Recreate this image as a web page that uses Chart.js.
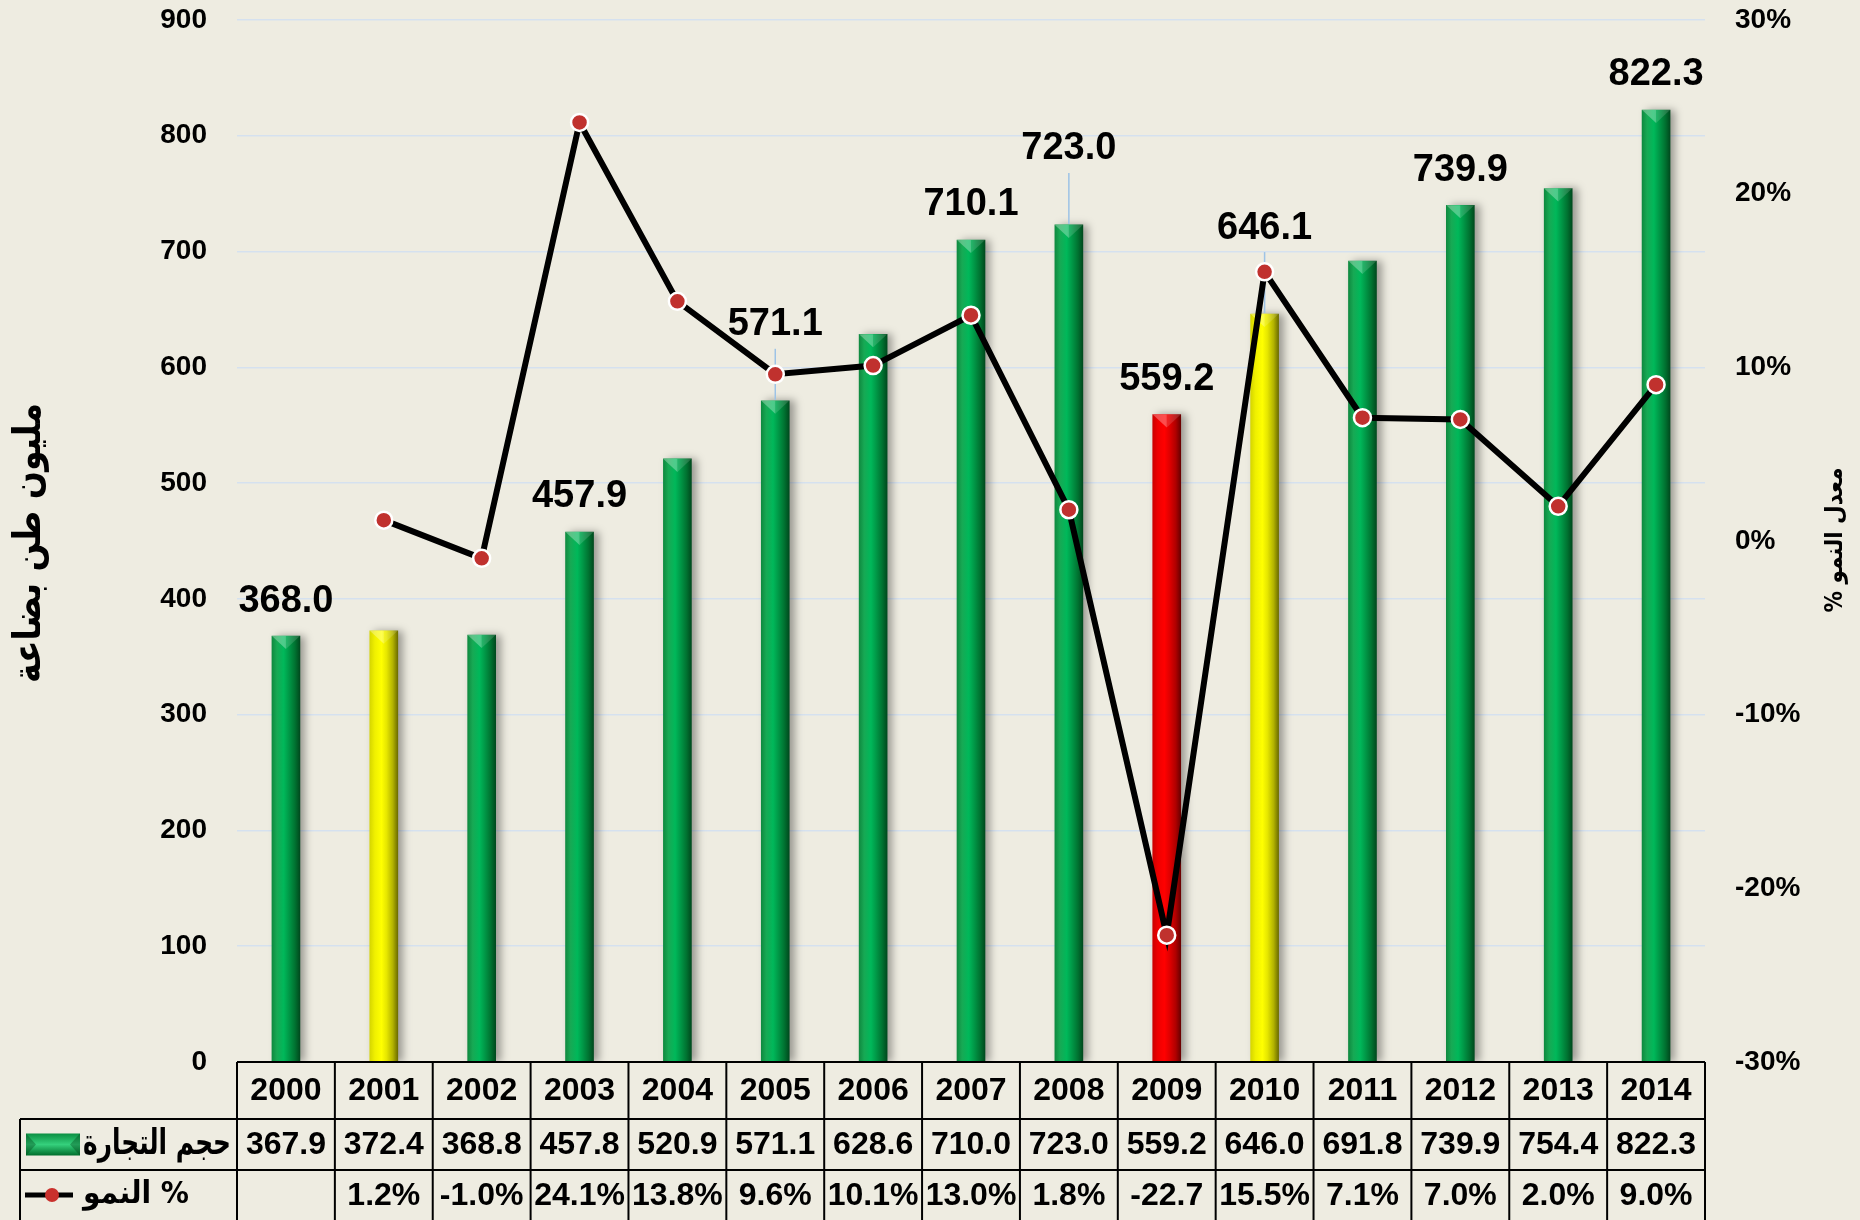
<!DOCTYPE html>
<html lang="ar">
<head>
<meta charset="utf-8">
<title>حجم التجارة ومعدل النمو</title>
<script src="https://cdn.jsdelivr.net/npm/chart.js@4.4.1/dist/chart.umd.min.js"></script>
<style>
  html, body { margin: 0; padding: 0; background: #eeece1; }
  #wrap { width: 1860px; height: 1220px; }
</style>
</head>
<body>
<div id="wrap"><canvas id="tradeChart" width="1860" height="1220"></canvas></div>
<script>
// Data
const years = ['2000', '2001', '2002', '2003', '2004', '2005', '2006', '2007',
               '2008', '2009', '2010', '2011', '2012', '2013', '2014'];
const tradeVolume = [367.9, 372.4, 368.8, 457.8, 520.9, 571.1, 628.6, 710.0,
                     723.0, 559.2, 646.0, 691.8, 739.9, 754.4, 822.3];
const growthRate = [null, 1.2, -1.0, 24.1, 13.8, 9.6, 10.1, 13.0,
                    1.8, -22.7, 15.5, 7.1, 7.0, 2.0, 9.0];
const growthText = ['', '1.2%', '-1.0%', '24.1%', '13.8%', '9.6%', '10.1%', '13.0%',
                    '1.8%', '-22.7', '15.5%', '7.1%', '7.0%', '2.0%', '9.0%'];
const barLabels = ['368.0', '', '', '457.9', '', '571.1', '', '710.1',
                   '723.0', '559.2', '646.1', '', '739.9', '', '822.3'];
const barTone = ['green', 'yellow', 'green', 'green', 'green', 'green', 'green', 'green',
                 'green', 'red', 'yellow', 'green', 'green', 'green', 'green'];

const tradeName = 'حجم التجارة';
const growthName = '% النمو';
const leftTitle = 'مليون طن بضاعة';
const rightTitle = 'معدل النمو %';

const NUM_FONT = '"Liberation Sans", Arial, sans-serif';
const AR_FONT = '"DejaVu Sans", sans-serif';
const BAR_W = 28;

// bevelled bar shading, left to right
const toneStops = {
    green:  ['#0f8a40', '#17a954', '#00b85a', '#009a48', '#007331', '#004a1e'],
    yellow: ['#d6d600', '#f0f000', '#ffff00', '#e6e600', '#b3b300', '#6e6e00'],
    red:    ['#cc0000', '#ee0000', '#ff0000', '#e00000', '#b00000', '#6a0000']
};
const stopPos = [0, 0.18, 0.42, 0.6, 0.82, 1];

function barFill(context) {
    if (context.type !== 'data') return '#00b050';
    const chart = context.chart;
    const stops = toneStops[barTone[context.dataIndex]];
    if (!chart.chartArea) return stops[2];
    const x = chart.scales.x.getPixelForValue(context.dataIndex);
    const g = chart.ctx.createLinearGradient(x - BAR_W / 2, 0, x + BAR_W / 2, 0);
    stops.forEach((c, i) => g.addColorStop(stopPos[i], c));
    return g;
}

function strokeLine(ctx, x1, y1, x2, y2) {
    ctx.beginPath();
    ctx.moveTo(x1, y1);
    ctx.lineTo(x2, y2);
    ctx.stroke();
}

// keep the plot box exactly where the layout padding puts it
function fixWidth(w) {
    return function(scale) {
        scale.width = w;
        scale.paddingTop = 0;
        scale.paddingBottom = 0;
    };
}

const paperPlugin = {
    id: 'paper',
    beforeDraw(chart) {
        const ctx = chart.ctx;
        ctx.save();
        ctx.fillStyle = '#eeece1';
        ctx.fillRect(0, 0, chart.width, chart.height);
        ctx.restore();
    }
};

// shadow, top bevel and leader lines for the bars
const barDecorPlugin = {
    id: 'barDecor',
    beforeDatasetDraw(chart, args) {
        if (args.meta.type !== 'bar') return;
        const ctx = chart.ctx;
        ctx.save();
        ctx.shadowColor = 'rgba(0, 0, 0, 0.35)';
        ctx.shadowBlur = 8;
        ctx.shadowOffsetX = 5;
    },
    afterDatasetDraw(chart, args) {
        if (args.meta.type !== 'bar') return;
        const ctx = chart.ctx;
        ctx.restore();
        const lift = chart.options.plugins.barLabels;
        args.meta.data.forEach((bar, i) => {
            const half = bar.width / 2;
            ctx.save();
            ctx.beginPath();
            ctx.moveTo(bar.x - half, bar.y);
            ctx.lineTo(bar.x, bar.y);
            ctx.lineTo(bar.x, bar.y + 13);
            ctx.closePath();
            ctx.fillStyle = 'rgba(255, 255, 255, 0.30)';
            ctx.fill();
            ctx.beginPath();
            ctx.moveTo(bar.x, bar.y);
            ctx.lineTo(bar.x + half, bar.y);
            ctx.lineTo(bar.x, bar.y + 13);
            ctx.closePath();
            ctx.fillStyle = 'rgba(255, 255, 255, 0.14)';
            ctx.fill();

            const up = lift.raised[i];
            if (barLabels[i] && up) {
                ctx.strokeStyle = '#9dc3e6';
                ctx.lineWidth = 1.5;
                strokeLine(ctx, bar.x, bar.y - up + 24, bar.x, bar.y - 1);
            }
            ctx.restore();
        });
    }
};

const barLabelPlugin = {
    id: 'barLabels',
    afterDatasetsDraw(chart, args, opts) {
        const meta = chart.getDatasetMeta(1);
        const ctx = chart.ctx;
        ctx.save();
        ctx.font = 'bold 38px ' + NUM_FONT;
        ctx.fillStyle = '#000';
        ctx.textAlign = 'center';
        ctx.textBaseline = 'middle';
        meta.data.forEach((bar, i) => {
            if (!barLabels[i]) return;
            const up = opts.raised[i] || opts.gap;
            ctx.fillText(barLabels[i], bar.x, bar.y - up);
        });
        ctx.restore();
    }
};

// data table under the plot, axis titles
const tablePlugin = {
    id: 'dataTable',
    afterDraw(chart) {
        const ctx = chart.ctx;
        const area = chart.chartArea;
        const x = chart.scales.x;
        const step = (area.right - area.left) / years.length;
        const top = area.bottom;
        const rows = [top, top + 57, top + 108, chart.height];
        const labelLeft = 20;

        ctx.save();
        ctx.strokeStyle = '#000';
        ctx.lineWidth = 2;
        strokeLine(ctx, area.left, rows[0], area.right, rows[0]);
        strokeLine(ctx, labelLeft, rows[1], area.right, rows[1]);
        strokeLine(ctx, labelLeft, rows[2], area.right, rows[2]);
        for (let i = 0; i <= years.length; i++) {
            const xx = area.left + i * step;
            strokeLine(ctx, xx, rows[0], xx, rows[3]);
        }
        strokeLine(ctx, labelLeft, rows[1], labelLeft, rows[3]);

        ctx.fillStyle = '#000';
        ctx.textAlign = 'center';
        ctx.textBaseline = 'middle';
        ctx.font = 'bold 32px ' + NUM_FONT;
        years.forEach((yr, i) => {
            const cx = x.getPixelForValue(i);
            ctx.fillText(yr, cx, (rows[0] + rows[1]) / 2 + 1, step - 8);
            ctx.fillText(tradeVolume[i].toFixed(1), cx, (rows[1] + rows[2]) / 2 + 1, step - 6);
            ctx.fillText(growthText[i], cx, (rows[2] + rows[3]) / 2 + 1, step - 6);
        });

        // legend keys
        const r1 = (rows[1] + rows[2]) / 2;
        const r2 = (rows[2] + rows[3]) / 2;
        const kg = ctx.createLinearGradient(0, r1 - 11, 0, r1 + 11);
        kg.addColorStop(0, '#0a8f42');
        kg.addColorStop(0.5, '#35d07c');
        kg.addColorStop(1, '#006e2c');
        ctx.fillStyle = kg;
        ctx.fillRect(26, r1 - 11, 54, 22);
        ctx.fillStyle = 'rgba(0, 60, 20, 0.35)';
        ctx.beginPath();
        ctx.moveTo(26, r1 - 11); ctx.lineTo(36, r1); ctx.lineTo(26, r1 + 11);
        ctx.moveTo(80, r1 - 11); ctx.lineTo(70, r1); ctx.lineTo(80, r1 + 11);
        ctx.fill();

        ctx.strokeStyle = '#000';
        ctx.lineWidth = 5;
        strokeLine(ctx, 25, r2, 73, r2);
        ctx.beginPath();
        ctx.arc(52, r2, 7, 0, Math.PI * 2);
        ctx.fillStyle = '#c9302c';
        ctx.fill();

        ctx.fillStyle = '#000';
        ctx.direction = 'rtl';
        ctx.textAlign = 'left';
        ctx.font = 'bold 35px ' + AR_FONT;
        ctx.fillText(tradeName, 83, r1, 148);
        ctx.font = 'bold 31px ' + AR_FONT;
        ctx.fillText(growthName, 83, r2, 106);

        // axis titles, both read bottom to top
        ctx.textAlign = 'center';
        ctx.save();
        ctx.translate(30, 543);
        ctx.rotate(-Math.PI / 2);
        ctx.font = 'bold 38px ' + AR_FONT;
        ctx.fillText(leftTitle, 0, 0, 280);
        ctx.restore();
        ctx.save();
        ctx.translate(1836, 540);
        ctx.rotate(-Math.PI / 2);
        ctx.font = 'bold 24px ' + AR_FONT;
        ctx.fillText(rightTitle, 0, 0, 145);
        ctx.restore();
        ctx.restore();
    }
};

const tickFont = { family: NUM_FONT, size: 28, weight: 'bold' };

new Chart(document.getElementById('tradeChart'), {
    data: {
        labels: years,
        datasets: [{
            type: 'line',
            label: growthName,
            data: growthRate,
            yAxisID: 'yR',
            order: 0,
            borderColor: '#000',
            borderWidth: 6,
            tension: 0,
            pointRadius: 8.5,
            pointBackgroundColor: '#c0312e',
            pointBorderColor: '#fff',
            pointBorderWidth: 2.5
        }, {
            type: 'bar',
            label: tradeName,
            data: tradeVolume,
            yAxisID: 'y',
            order: 1,
            backgroundColor: barFill,
            borderWidth: 0,
            barThickness: BAR_W,
            categoryPercentage: 1
        }]
    },
    options: {
        responsive: false,
        devicePixelRatio: 1,
        animation: false,
        layout: { padding: { top: 20, left: 0, right: 0, bottom: 0 } },
        events: [],
        scales: {
            x: {
                ticks: { display: false },
                grid: { display: false, drawTicks: false },
                border: { display: false },
                afterFit(scale) {
                    scale.height = 158;
                    scale.paddingLeft = 0;
                    scale.paddingRight = 0;
                }
            },
            y: {
                position: 'left',
                min: 0,
                max: 900,
                ticks: { stepSize: 100, padding: 30, color: '#000', font: tickFont },
                grid: { color: '#d5e1ef', lineWidth: 1.5, drawTicks: false },
                border: { display: false },
                afterFit: fixWidth(237)
            },
            yR: {
                position: 'right',
                min: -30,
                max: 30,
                ticks: {
                    stepSize: 10,
                    padding: 30,
                    color: '#000',
                    font: tickFont,
                    callback: v => v + '%'
                },
                grid: { display: false, drawTicks: false },
                border: { display: false },
                afterFit: fixWidth(155)
            }
        },
        plugins: {
            legend: { display: false },
            tooltip: { enabled: false },
            barLabels: { gap: 35, raised: { 5: 76, 8: 76, 10: 86 } }
        }
    },
    plugins: [paperPlugin, barDecorPlugin, barLabelPlugin, tablePlugin]
});
</script>
</body>
</html>
